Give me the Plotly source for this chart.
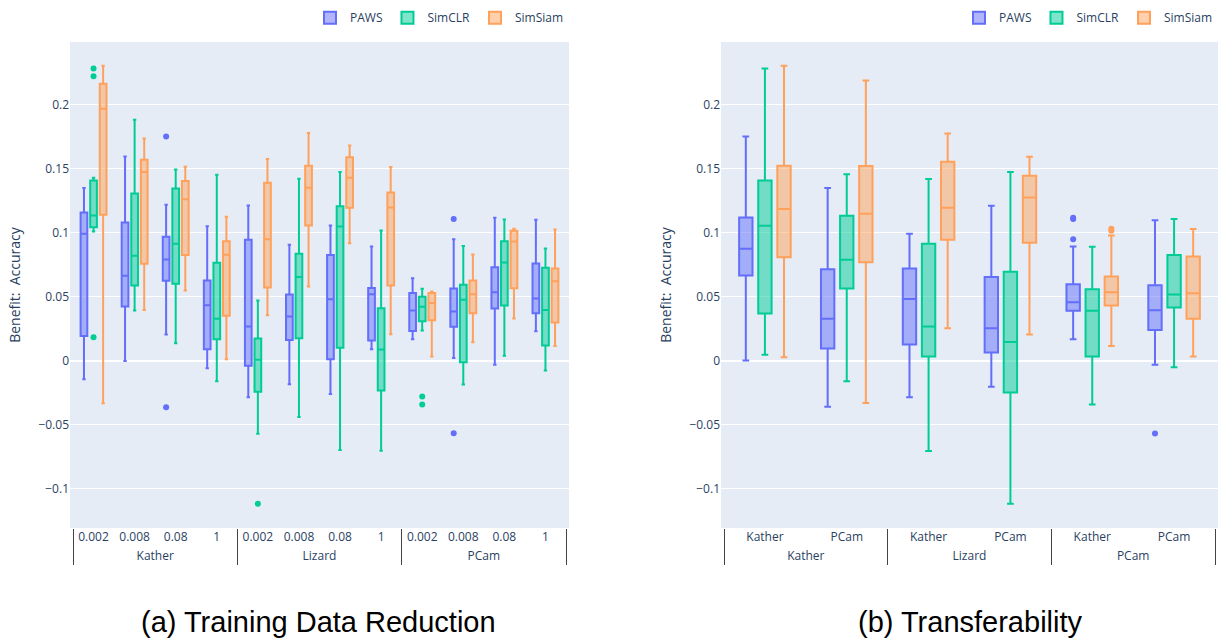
import plotly.graph_objects as go

# ---------------- (a) Training Data Reduction ----------------
datasets_a = ["Kather"] * 4 + ["Lizard"] * 4 + ["PCam"] * 4
fractions_a = ["0.002", "0.008", "0.08", "1"] * 3

paws_a_q1 = [0.0195, 0.0424, 0.0625, 0.0091, -0.0039, 0.0164, 0.0013, 0.0159, 0.0234, 0.0266, 0.0409, 0.0372]
paws_a_med = [0.0992, 0.0664, 0.0792, 0.0435, 0.0268, 0.0346, 0.0482, 0.0521, 0.0393, 0.0385, 0.0536, 0.0487]
paws_a_q3 = [0.1159, 0.1080, 0.0969, 0.0628, 0.0945, 0.0518, 0.0826, 0.0570, 0.0531, 0.0565, 0.0732, 0.0760]
paws_a_lo = [-0.0143, 0.0000, 0.0206, -0.0057, -0.0284, -0.0182, -0.0258, 0.0091, 0.0169, 0.0023, -0.0031, 0.0232]
paws_a_hi = [0.1350, 0.1596, 0.1219, 0.1052, 0.1214, 0.0906, 0.1057, 0.0893, 0.0646, 0.0950, 0.1117, 0.1102]
paws_a_out = [[], [], [0.1753, -0.0362], [], [], [], [], [], [], [0.1107, -0.0565], [], []]

simclr_a_q1 = [0.1044, 0.0589, 0.0602, 0.0169, -0.0242, 0.0177, 0.0102, -0.0232, 0.0310, -0.0010, 0.0432, 0.0120]
simclr_a_med = [0.1135, 0.0820, 0.0914, 0.0328, 0.0008, 0.0654, 0.1049, 0.0089, 0.0422, 0.0477, 0.0768, 0.0398]
simclr_a_q3 = [0.1409, 0.1307, 0.1346, 0.0766, 0.0174, 0.0836, 0.1208, 0.0411, 0.0500, 0.0594, 0.0935, 0.0727]
simclr_a_lo = [0.1010, 0.0393, 0.0138, -0.0159, -0.0570, -0.0438, -0.0695, -0.0701, 0.0237, -0.0185, 0.0041, -0.0076]
simclr_a_hi = [0.1430, 0.1883, 0.1495, 0.1453, 0.0471, 0.1422, 0.1474, 0.1018, 0.0563, 0.0898, 0.1104, 0.0877]
simclr_a_out = [[0.2284, 0.2222, 0.0185], [], [], [], [-0.1115], [], [], [], [-0.0279, -0.0341], [], [], []]

simsiam_a_q1 = [0.1141, 0.0758, 0.0826, 0.0352, 0.0573, 0.1057, 0.1195, 0.0589, 0.0318, 0.0372, 0.0568, 0.0299]
simsiam_a_med = [0.1969, 0.1474, 0.1263, 0.0828, 0.0950, 0.1352, 0.1430, 0.1198, 0.0451, 0.0521, 0.0932, 0.0622]
simsiam_a_q3 = [0.2164, 0.1570, 0.1404, 0.0935, 0.1390, 0.1523, 0.1591, 0.1315, 0.0531, 0.0628, 0.1016, 0.0721]
simsiam_a_lo = [-0.0330, 0.0398, 0.0549, 0.0013, 0.0357, 0.0580, 0.0919, 0.0208, 0.0034, 0.0146, 0.0331, 0.0117]
simsiam_a_hi = [0.2305, 0.1737, 0.1516, 0.1125, 0.1576, 0.1779, 0.1682, 0.1513, 0.0542, 0.0830, 0.1031, 0.1026]
simsiam_a_out = [[] for _ in range(12)]

# ---------------- (b) Transferability ----------------
source_b = ["Kather"] * 2 + ["Lizard"] * 2 + ["PCam"] * 2
target_b = ["Kather", "PCam"] * 3

paws_b_q1 = [0.0667, 0.0096, 0.0128, 0.0065, 0.0391, 0.0242]
paws_b_med = [0.0875, 0.0328, 0.0484, 0.0255, 0.0458, 0.0396]
paws_b_q3 = [0.1120, 0.0716, 0.0721, 0.0654, 0.0599, 0.0591]
paws_b_lo = [0.0003, -0.0359, -0.0284, -0.0203, 0.0169, -0.0031]
paws_b_hi = [0.1753, 0.1349, 0.0992, 0.1211, 0.0893, 0.1099]
paws_b_out = [[], [], [], [], [0.1107, 0.1117, 0.0950], [-0.0568]]

simclr_b_q1 = [0.0370, 0.0565, 0.0034, -0.0247, 0.0034, 0.0417]
simclr_b_med = [0.1055, 0.0789, 0.0268, 0.0148, 0.0391, 0.0518]
simclr_b_q3 = [0.1409, 0.1133, 0.0914, 0.0695, 0.0560, 0.0826]
simclr_b_lo = [0.0047, -0.0159, -0.0703, -0.1115, -0.0341, -0.0049]
simclr_b_hi = [0.2284, 0.1458, 0.1420, 0.1474, 0.0891, 0.1107]
simclr_b_out = [[] for _ in range(6)]

simsiam_b_q1 = [0.0810, 0.0771, 0.0945, 0.0922, 0.0432, 0.0328]
simsiam_b_med = [0.1185, 0.1148, 0.1195, 0.1276, 0.0536, 0.0529]
simsiam_b_q3 = [0.1523, 0.1521, 0.1555, 0.1445, 0.0659, 0.0815]
simsiam_b_lo = [0.0029, -0.0328, 0.0255, 0.0206, 0.0117, 0.0034]
simsiam_b_hi = [0.2305, 0.2190, 0.1776, 0.1594, 0.0979, 0.1029]
simsiam_b_out = [[], [], [], [], [0.1031, 0.1016], []]

methods = ["PAWS", "SimCLR", "SimSiam"]
colors = {"PAWS": "#636EFA", "SimCLR": "#00CC96", "SimSiam": "#FFA15A"}

panel_a = {
    "PAWS": (paws_a_q1, paws_a_med, paws_a_q3, paws_a_lo, paws_a_hi, paws_a_out),
    "SimCLR": (simclr_a_q1, simclr_a_med, simclr_a_q3, simclr_a_lo, simclr_a_hi, simclr_a_out),
    "SimSiam": (simsiam_a_q1, simsiam_a_med, simsiam_a_q3, simsiam_a_lo, simsiam_a_hi, simsiam_a_out),
}
panel_b = {
    "PAWS": (paws_b_q1, paws_b_med, paws_b_q3, paws_b_lo, paws_b_hi, paws_b_out),
    "SimCLR": (simclr_b_q1, simclr_b_med, simclr_b_q3, simclr_b_lo, simclr_b_hi, simclr_b_out),
    "SimSiam": (simsiam_b_q1, simsiam_b_med, simsiam_b_q3, simsiam_b_lo, simsiam_b_hi, simsiam_b_out),
}

fig = go.Figure()


def point_lists(out):
    # plotly.js detects per-box sample arrays from a non-empty first row,
    # so boxes without outliers carry a single blank (None) point
    return [list(p) if p else [None] for p in out]


def add_panel(stats, xcats, xaxis, yaxis, legend):
    for m in methods:
        q1, med, q3, lo, hi, out = stats[m]
        fig.add_trace(go.Box(
            name=m, x=xcats, y=point_lists(out),
            q1=q1, median=med, q3=q3, lowerfence=lo, upperfence=hi,
            boxpoints="outliers",
            marker=dict(color=colors[m], size=6),
            line=dict(color=colors[m], width=2),
            xaxis=xaxis, yaxis=yaxis, legend=legend,
            offsetgroup=m, showlegend=True,
        ))


add_panel(panel_a, [datasets_a, fractions_a], "x", "y", "legend")
add_panel(panel_b, [source_b, target_b], "x2", "y2", "legend2")

W, H = 1220, 638
y_range = [-0.1305, 0.249]
tick_font = dict(family="Open Sans, verdana, arial, sans-serif", size=12, color="#2a3f5f")
y_title = "Benefit:  Accuracy"

fig.update_layout(
    template="plotly",
    width=W, height=H,
    margin=dict(l=0, r=0, t=42, b=110),
    boxmode="group",
    showlegend=True,
    xaxis=dict(domain=[70 / W, 569 / W], type="multicategory", tickfont=tick_font),
    xaxis2=dict(domain=[721 / W, 1218 / W], type="multicategory", tickfont=tick_font),
    yaxis=dict(range=y_range, title=dict(text=y_title, standoff=14), tickfont=tick_font),
    yaxis2=dict(range=y_range, anchor="x2", title=dict(text=y_title, standoff=14), tickfont=tick_font),
    legend=dict(orientation="h", x=569 / W, xanchor="right", y=1.02, yanchor="bottom",
                bgcolor="rgba(0,0,0,0)"),
    legend2=dict(orientation="h", x=1218 / W, xanchor="right", y=1.02, yanchor="bottom",
                 bgcolor="rgba(0,0,0,0)"),
    paper_bgcolor="white",
)

caption_font = dict(family="Liberation Sans, Arial, sans-serif", size=29, color="black")
plot_h = H - 42 - 110
cap_y = (528 - 622) / plot_h
fig.add_annotation(text="(a) Training Data Reduction", x=318 / W, y=cap_y, xref="paper", yref="paper",
                   xanchor="center", yanchor="middle", showarrow=False, font=caption_font)
fig.add_annotation(text="(b) Transferability", x=970 / W, y=cap_y, xref="paper", yref="paper",
                   xanchor="center", yanchor="middle", showarrow=False, font=caption_font)

fig.write_html("out.html")
